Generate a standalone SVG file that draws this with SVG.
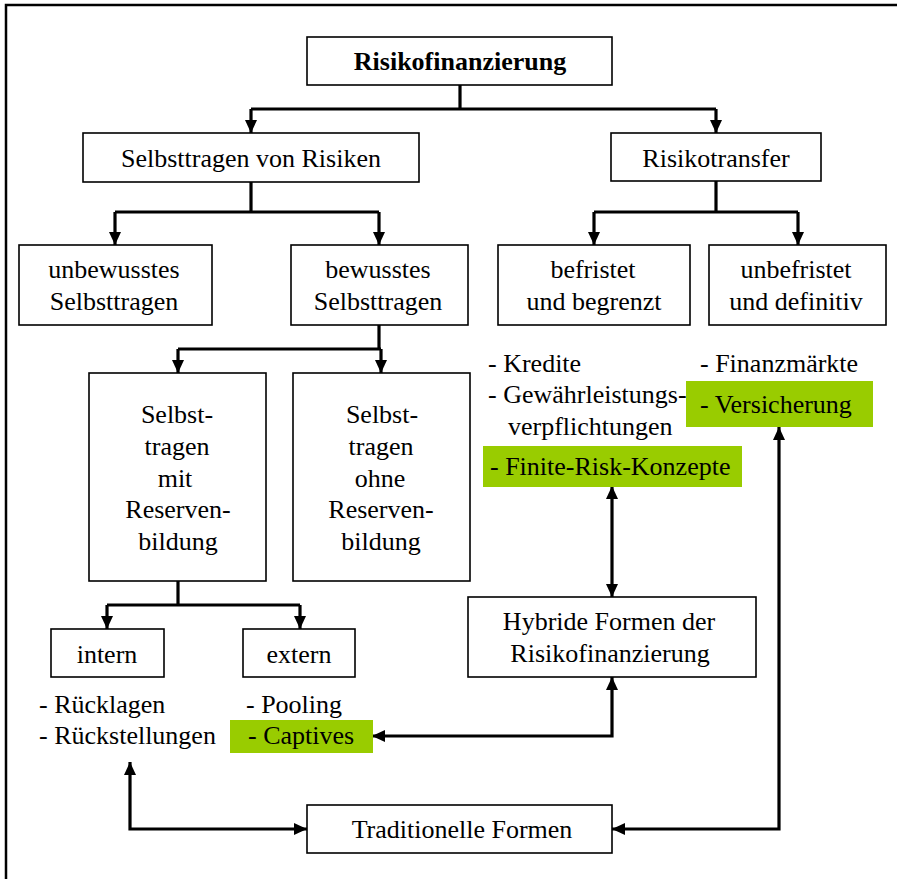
<svg xmlns="http://www.w3.org/2000/svg" width="897" height="879" viewBox="0 0 897 879">
  <style>
    .box { fill: #ffffff; stroke: #000000; stroke-width: 1.6; }
    .hl { fill: #99cc00; stroke: none; }
    .t { font-family: "Liberation Serif", "Times New Roman", serif; font-size: 26px; fill: #000000; }
    .c { text-anchor: middle; }
    .b { font-weight: bold; }
    .wire { fill: none; stroke: #000000; stroke-width: 3.2; stroke-linejoin: miter; }
  </style>
  <defs>
    <marker id="arrow" markerUnits="userSpaceOnUse" viewBox="0 0 13 12" refX="13" refY="6" markerWidth="13" markerHeight="12" orient="auto-start-reverse">
      <path d="M0,0 L13,6 L0,12 z" fill="#000000"/>
    </marker>
  </defs>

  <!-- outer frame -->
  <rect x="6" y="5" width="900" height="890" fill="#ffffff" stroke="#000000" stroke-width="2.5"/>

  <!-- connectors -->
  <g id="connectors">
    <path class="wire" d="M460,85 V109"/>
    <path class="wire" d="M251,109 H716"/>
    <path class="wire" d="M251,109 V133" marker-end="url(#arrow)"/>
    <path class="wire" d="M716,109 V133" marker-end="url(#arrow)"/>

    <path class="wire" d="M251,182 V212"/>
    <path class="wire" d="M115,212 H379"/>
    <path class="wire" d="M115,212 V245" marker-end="url(#arrow)"/>
    <path class="wire" d="M379,212 V245" marker-end="url(#arrow)"/>

    <path class="wire" d="M716,181 V212"/>
    <path class="wire" d="M594,212 H798"/>
    <path class="wire" d="M594,212 V245" marker-end="url(#arrow)"/>
    <path class="wire" d="M798,212 V245" marker-end="url(#arrow)"/>

    <path class="wire" d="M379,325 V349"/>
    <path class="wire" d="M178,349 H381"/>
    <path class="wire" d="M178,349 V373" marker-end="url(#arrow)"/>
    <path class="wire" d="M381,349 V373" marker-end="url(#arrow)"/>

    <path class="wire" d="M178,581 V605"/>
    <path class="wire" d="M107,605 H300"/>
    <path class="wire" d="M107,605 V629" marker-end="url(#arrow)"/>
    <path class="wire" d="M300,605 V629" marker-end="url(#arrow)"/>

    <path class="wire" d="M612,486 V597" marker-start="url(#arrow)" marker-end="url(#arrow)"/>
    <path class="wire" d="M612,677 V736 H372" marker-start="url(#arrow)" marker-end="url(#arrow)"/>
    <path class="wire" d="M779,427 V829 H612" marker-start="url(#arrow)" marker-end="url(#arrow)"/>
    <path class="wire" d="M130,762 V829 H307" marker-start="url(#arrow)" marker-end="url(#arrow)"/>
  </g>

  <g id="risikofinanzierung">
    <rect class="box" x="307" y="37" width="305" height="48"/>
    <text class="t c b" x="460" y="70">Risikofinanzierung</text>
  </g>

  <g id="selbsttragen">
    <rect class="box" x="83" y="133" width="336" height="49"/>
    <text class="t c" x="251" y="167">Selbsttragen von Risiken</text>
  </g>

  <g id="risikotransfer">
    <rect class="box" x="611" y="133" width="210" height="48"/>
    <text class="t c" x="716" y="167">Risikotransfer</text>
  </g>

  <g id="unbewusst">
    <rect class="box" x="19" y="245" width="193" height="80"/>
    <text class="t c" x="114" y="278">unbewusstes</text>
    <text class="t c" x="114" y="310">Selbsttragen</text>
  </g>

  <g id="bewusst">
    <rect class="box" x="291" y="245" width="177" height="80"/>
    <text class="t c" x="378" y="278">bewusstes</text>
    <text class="t c" x="378" y="310">Selbsttragen</text>
  </g>

  <g id="befristet">
    <rect class="box" x="498" y="245" width="192" height="80"/>
    <text class="t c" x="593" y="278">befristet</text>
    <text class="t c" x="594" y="310">und begrenzt</text>
  </g>

  <g id="unbefristet">
    <rect class="box" x="709" y="245" width="177" height="80"/>
    <text class="t c" x="796" y="278">unbefristet</text>
    <text class="t c" x="796" y="310">und definitiv</text>
  </g>

  <g id="mit-reserven">
    <rect class="box" x="89" y="373" width="177" height="208"/>
    <text class="t c" x="177" y="423">Selbst-</text>
    <text class="t c" x="177" y="455">tragen</text>
    <text class="t c" x="175" y="487">mit</text>
    <text class="t c" x="178" y="518">Reserven-</text>
    <text class="t c" x="178" y="550">bildung</text>
  </g>

  <g id="ohne-reserven">
    <rect class="box" x="293" y="373" width="177" height="208"/>
    <text class="t c" x="382" y="423">Selbst-</text>
    <text class="t c" x="381" y="455">tragen</text>
    <text class="t c" x="380" y="487">ohne</text>
    <text class="t c" x="381" y="518">Reserven-</text>
    <text class="t c" x="381" y="550">bildung</text>
  </g>

  <g id="intern">
    <rect class="box" x="51" y="629" width="113" height="48"/>
    <text class="t c" x="107" y="663">intern</text>
  </g>

  <g id="extern">
    <rect class="box" x="243" y="629" width="112" height="48"/>
    <text class="t c" x="299" y="663">extern</text>
  </g>

  <g id="hybride">
    <rect class="box" x="468" y="597" width="288" height="80"/>
    <text class="t c" x="609" y="630">Hybride Formen der</text>
    <text class="t c" x="610" y="662">Risikofinanzierung</text>
  </g>

  <g id="traditionell">
    <rect class="box" x="307" y="805" width="305" height="48"/>
    <text class="t c" x="462" y="838">Traditionelle Formen</text>
  </g>

  <!-- lists of instruments -->
  <g id="liste-befristet">
    <text class="t" x="488" y="372">- Kredite</text>
    <text class="t" x="488" y="403">- Gewährleistungs-</text>
    <text class="t" x="508" y="435">verpflichtungen</text>
    <rect class="hl" x="483" y="446" width="259" height="41"/>
    <text class="t" x="490" y="475">- Finite-Risk-Konzepte</text>
  </g>

  <g id="liste-unbefristet">
    <text class="t" x="700" y="372">- Finanzmärkte</text>
    <rect class="hl" x="686" y="381" width="187" height="46"/>
    <text class="t" x="700" y="413">- Versicherung</text>
  </g>

  <g id="liste-intern">
    <text class="t" x="39" y="713">- Rücklagen</text>
    <text class="t" x="39" y="744">- Rückstellungen</text>
  </g>

  <g id="liste-extern">
    <text class="t" x="246" y="713">- Pooling</text>
    <rect class="hl" x="230" y="720" width="143" height="33"/>
    <text class="t" x="248" y="744">- Captives</text>
  </g>
</svg>
